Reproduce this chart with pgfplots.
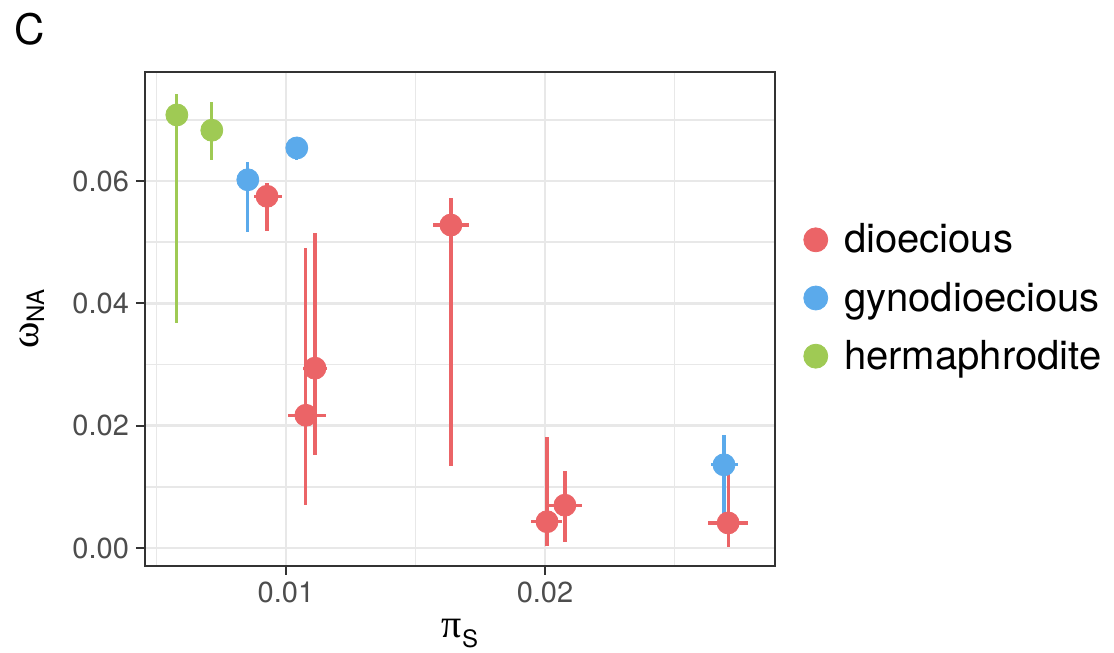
\documentclass[border=0pt]{standalone}
\usepackage{pgfplots}
\pgfplotsset{compat=1.18}
\usepackage{pgfplotstable}
\usepackage{fontspec}
\setmainfont{TeX Gyre Heros}
\newfontfamily\grk{Liberation Serif}
\definecolor{cred}{RGB}{235,100,103}
\definecolor{cblue}{RGB}{91,170,235}
\definecolor{cgreen}{RGB}{159,202,84}
\definecolor{gridc}{RGB}{232,232,232}
\definecolor{framec}{RGB}{51,51,51}
\definecolor{tickc}{RGB}{77,77,77}

\pgfplotstableread{
x y xm xp ym yp
0.00927 0.0575 0.00051 0.00058 0.0057 0.0022
0.01077 0.0217 0.00069 0.00077 0.0147 0.0273
0.01112 0.0294 0.00046 0.00046 0.0142 0.0221
0.01637 0.0528 0.00069 0.00070 0.0394 0.0044
0.02008 0.0043 0.00062 0.00058 0.0040 0.0138
0.02077 0.0070 0.00065 0.00066 0.0060 0.0056
0.02707 0.0041 0.00078 0.00077 0.0039 0.0083
}\dioecious

\pgfplotstableread{
x y xm xp ym yp
0.00853 0.0602 0.00020 0.00020 0.0085 0.0029
0.01042 0.0654 0.00038 0.00043 0.0020 0.0005
0.02691 0.0136 0.00050 0.00054 0.0090 0.0049
}\gyno

\pgfplotstableread{
x y xm xp ym yp
0.00579 0.0708 0.00000 0.00000 0.0340 0.0034
0.00714 0.0683 0.00020 0.00030 0.0049 0.0046
}\herm

\pgfplotsset{
  errstyle/.style={only marks, mark=*, mark size=5.5pt, color=#1,
    mark options={draw=none, fill=#1},
    error bars/x dir=both, error bars/x explicit,
    error bars/y dir=both, error bars/y explicit,
    error bars/error mark=none,
    error bars/error bar style={line width=1.6pt, color=#1}},
}

\begin{document}
\begin{tikzpicture}
\useasboundingbox (0,0) rectangle (557pt,326.5pt);
\node[anchor=base west, inner sep=0pt, font=\fontsize{21}{21}\selectfont] at (7pt,304pt) {C};
\begin{axis}[
  at={(72.5pt,43.5pt)}, anchor=south west,
  scale only axis, width=315pt, height=247pt,
  xmin=0.00456, xmax=0.02888, ymin=-0.00294, ymax=0.07782,
  xtick={0.01,0.02}, ytick={0,0.02,0.04,0.06},
  minor xtick={0.005,0.015,0.025}, minor ytick={0.01,0.03,0.05,0.07},
  grid=both,
  major grid style={gridc, line width=1.3pt},
  minor grid style={gridc, line width=0.7pt},
  tick align=outside, major tick length=4.5pt, minor tick length=0pt,
  xtick pos=left, ytick pos=left,
  tick style={framec, line width=1pt},
  axis line style={framec, line width=1pt},
  scaled ticks=false,
  /pgf/number format/assume math mode=true,
  xticklabel style={/pgf/number format/fixed, /pgf/number format/fixed zerofill, /pgf/number format/precision=2},
  yticklabel style={/pgf/number format/fixed, /pgf/number format/fixed zerofill, /pgf/number format/precision=2},
  tick label style={font=\fontsize{14.5}{14.5}\selectfont, color=tickc},
  xlabel={{\fontsize{20}{20}\selectfont\grk π}\raisebox{-5pt}{\fontsize{12}{12}\selectfont S}},
  ylabel={{\fontsize{20}{20}\selectfont\grk ω}\raisebox{-3pt}{\fontsize{12}{12}\selectfont NA}},
  xlabel style={at={(axis description cs:0.5,-0.1457)}, anchor=base},
  ylabel style={at={(axis description cs:-0.1698,0.5)}, anchor=base, rotate=0},
  legend style={at={(axis description cs:1.0444,0.5425)}, anchor=west, draw=none, fill=none,
    inner sep=0pt, row sep=13pt, font=\fontsize{20}{20}\selectfont,
    nodes={inner sep=0pt},
    /tikz/every odd column/.append style={column sep=8pt}},
  legend cell align=left,
  legend image code/.code={\fill[#1] (6pt,0pt) circle (6pt);},
]
\addlegendimage{color=cred, fill=cred}
\addlegendentry{dioecious\vphantom{gyh}}
\addlegendimage{color=cblue, fill=cblue}
\addlegendentry{gynodioecious\vphantom{gyh}}
\addlegendimage{color=cgreen, fill=cgreen}
\addlegendentry{hermaphrodite\vphantom{gyh}}

\addplot[forget plot, errstyle=cgreen] table[x=x, y=y, x error plus=xp, x error minus=xm, y error plus=yp, y error minus=ym]{\herm};
\addplot[forget plot, errstyle=cblue] table[x=x, y=y, x error plus=xp, x error minus=xm, y error plus=yp, y error minus=ym]{\gyno};
\addplot[forget plot, errstyle=cred] table[x=x, y=y, x error plus=xp, x error minus=xm, y error plus=yp, y error minus=ym]{\dioecious};
\end{axis}
\end{tikzpicture}
\end{document}
